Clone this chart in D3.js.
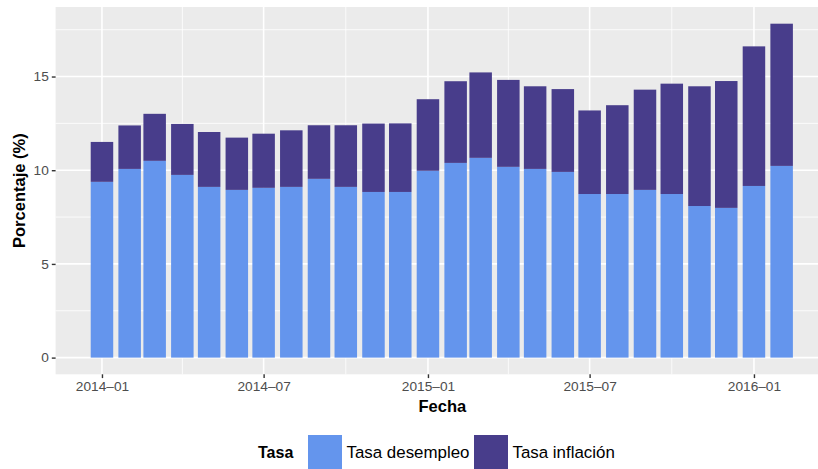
<!DOCTYPE html>
<html>
<head>
<meta charset="utf-8">
<script src="https://cdn.jsdelivr.net/npm/d3@7"></script>
<style>
    body { margin: 0; background: #fff; }
    svg { display: block; font-family: "Liberation Sans", Arial, sans-serif; }
</style>
</head>
<body>
<div id="chart"></div>
<script>
// monthly rates (%)
var meses = ["2014-01", "2014-02", "2014-03", "2014-04", "2014-05", "2014-06", "2014-07", "2014-08",
    "2014-09", "2014-10", "2014-11", "2014-12", "2015-01", "2015-02", "2015-03", "2015-04", "2015-05",
    "2015-06", "2015-07", "2015-08", "2015-09", "2015-10", "2015-11", "2015-12", "2016-01", "2016-02"];
var desempleo = [9.38, 10.07, 10.50, 9.75, 9.11, 8.95, 9.06, 9.11, 9.54, 9.11, 8.84, 8.84, 9.97,
    10.39, 10.66, 10.18, 10.07, 9.91, 8.73, 8.73, 8.95, 8.73, 8.09, 7.99, 9.16, 10.23];
var inflacion = [2.13, 2.32, 2.51, 2.72, 2.93, 2.79, 2.89, 3.02, 2.86, 3.29, 3.65, 3.66, 3.82,
    4.36, 4.56, 4.64, 4.41, 4.42, 4.46, 4.74, 5.35, 5.89, 6.39, 6.77, 7.45, 7.59];
var ticksX = ["2014-01", "2014-07", "2015-01", "2015-07", "2016-01"];
var minorX = ["2014-04", "2014-10", "2015-04", "2015-10"];
var ticksY = [0, 5, 10, 15];
var minorY = [2.5, 7.5, 12.5, 17.5];
var series = ["Tasa desempleo", "Tasa inflación"];
var colores = ["#6495ED", "#483D8B"];

var parseMes = d3.timeParse("%Y-%m");
var DAY = 864e5;

var width = 818, height = 469;
var panel = {left: 55.6, right: 828, top: 7, bottom: 374.3};

var svg = d3.select("#chart").append("svg")
    .attr("width", width)
    .attr("height", height);

// table for the stack layout
var tabla = meses.map(function(m, i) {
    var row = {fecha: parseMes(m)};
    row[series[0]] = desempleo[i];
    row[series[1]] = inflacion[i];
    return row;
});
var stacked = d3.stack().keys(series)(tabla);

// bar width like ggplot: 0.9 * smallest gap (28 days)
var barDays = 0.9 * 28;
var fechas = tabla.map(function(d) { return d.fecha; });
var x0 = +d3.min(fechas) - barDays / 2 * DAY;
var x1 = +d3.max(fechas) + barDays / 2 * DAY;
var padX = (x1 - x0) * 0.05;
var x = d3.scaleTime()
    .domain([new Date(x0 - padX), new Date(x1 + padX)])
    .range([panel.left, panel.right]);

var maxTotal = d3.max(stacked[1], function(d) { return d[1]; });
var y = d3.scaleLinear()
    .domain([-maxTotal * 0.05, maxTotal * 1.05])
    .range([panel.bottom, panel.top]);

// panel background
svg.append("rect")
    .attr("x", panel.left).attr("y", panel.top)
    .attr("width", panel.right - panel.left)
    .attr("height", panel.bottom - panel.top)
    .attr("fill", "#EBEBEB");

// grid
var grid = svg.append("g").attr("stroke", "#fff");
grid.selectAll(".minY").data(minorY).enter().append("line")
    .attr("x1", panel.left).attr("x2", panel.right)
    .attr("y1", function(d) { return y(d); }).attr("y2", function(d) { return y(d); })
    .attr("stroke-width", 0.8);
grid.selectAll(".minX").data(minorX).enter().append("line")
    .attr("y1", panel.top).attr("y2", panel.bottom)
    .attr("x1", function(d) { return x(parseMes(d)); }).attr("x2", function(d) { return x(parseMes(d)); })
    .attr("stroke-width", 0.8);
grid.selectAll(".majY").data(ticksY).enter().append("line")
    .attr("x1", panel.left).attr("x2", panel.right)
    .attr("y1", function(d) { return y(d); }).attr("y2", function(d) { return y(d); })
    .attr("stroke-width", 1.6);
grid.selectAll(".majX").data(ticksX).enter().append("line")
    .attr("y1", panel.top).attr("y2", panel.bottom)
    .attr("x1", function(d) { return x(parseMes(d)); }).attr("x2", function(d) { return x(parseMes(d)); })
    .attr("stroke-width", 1.6);

// stacked bars
var capas = svg.selectAll("g.capa")
    .data(stacked)
    .enter().append("g")
    .attr("class", "capa")
    .attr("fill", function(d, i) { return colores[i]; });
capas.selectAll("rect")
    .data(function(d) { return d; })
    .enter().append("rect")
    .attr("x", function(d) { return x(new Date(+d.data.fecha - barDays / 2 * DAY)); })
    .attr("width", function(d) {
        return x(new Date(+d.data.fecha + barDays / 2 * DAY)) - x(new Date(+d.data.fecha - barDays / 2 * DAY));
    })
    .attr("y", function(d) { return y(d[1]); })
    .attr("height", function(d) { return y(d[0]) - y(d[1]); });

// axes
var xAxis = d3.axisBottom(x)
    .tickValues(ticksX.map(parseMes))
    .tickFormat(function(d) { return d3.timeFormat("%Y–%m")(d); })
    .tickSize(3.8)
    .tickPadding(3);
var gx = svg.append("g")
    .attr("transform", "translate(0," + panel.bottom + ")")
    .call(xAxis);
gx.select(".domain").remove();
gx.selectAll("line").attr("stroke", "#333").attr("stroke-width", 1.4);
gx.selectAll("text").attr("fill", "#4D4D4D").attr("font-size", "13.7px")
    .attr("font-family", "Liberation Sans, Arial, sans-serif");

var yAxis = d3.axisLeft(y)
    .tickValues(ticksY)
    .tickSize(3.8)
    .tickPadding(3);
var gy = svg.append("g")
    .attr("transform", "translate(" + panel.left + ",0)")
    .call(yAxis);
gy.select(".domain").remove();
gy.selectAll("line").attr("stroke", "#333").attr("stroke-width", 1.4);
gy.selectAll("text").attr("fill", "#4D4D4D").attr("font-size", "13.7px")
    .attr("font-family", "Liberation Sans, Arial, sans-serif");

// axis titles
svg.append("text")
    .attr("x", (panel.left + panel.right) / 2 + 0.5)
    .attr("y", 411.5)
    .attr("text-anchor", "middle")
    .attr("font-size", "16.5px")
    .attr("font-weight", "bold")
    .text("Fecha");
svg.append("text")
    .attr("transform", "translate(25," + (panel.top + panel.bottom) / 2 + ") rotate(-90)")
    .attr("text-anchor", "middle")
    .attr("font-size", "16.5px")
    .attr("font-weight", "bold")
    .text("Porcentaje (%)");

// legend
var legend = svg.append("g");
legend.append("text")
    .attr("x", 258).attr("y", 458)
    .attr("font-size", "16px")
    .attr("font-weight", "bold")
    .text("Tasa");
var keyX = [308, 474];
var items = legend.selectAll("g.item")
    .data(series)
    .enter().append("g")
    .attr("class", "item")
    .attr("transform", function(d, i) { return "translate(" + keyX[i] + ",435)"; });
items.append("rect")
    .attr("width", 34).attr("height", 34)
    .attr("fill", function(d, i) { return colores[i]; });
items.append("text")
    .attr("x", 38.5).attr("y", 23)
    .attr("font-size", "16.9px")
    .attr("fill", "#000")
    .text(function(d) { return d; });
</script>
</body>
</html>
